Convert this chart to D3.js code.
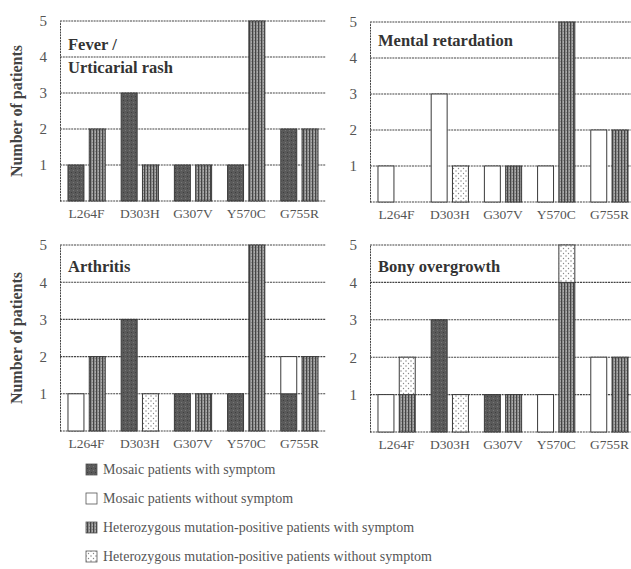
<!DOCTYPE html>
<html>
<head>
<meta charset="utf-8">
<script src="https://cdn.jsdelivr.net/npm/d3@7"></script>
<style>
  body { margin: 0; background: #fff; }
</style>
</head>
<body>
<div id="chart"></div>
<script>
const categories = ["L264F", "D303H", "G307V", "Y570C", "G755R"];
const panelTitles = [["Fever /", "Urticarial rash"], ["Mental retardation"], ["Arthritis"], ["Bony overgrowth"]];
const yTicks = [1, 2, 3, 4, 5];

// one row per panel, one value per category
const mosaicWith    = [[1, 3, 1, 1, 2], [0, 0, 0, 0, 0], [0, 3, 1, 1, 1], [0, 3, 1, 0, 0]];
const mosaicWithout = [[0, 0, 0, 0, 0], [1, 3, 1, 1, 2], [1, 0, 0, 0, 1], [1, 0, 0, 1, 2]];
const hetWith       = [[2, 1, 1, 5, 2], [0, 0, 1, 5, 2], [2, 0, 1, 5, 2], [1, 0, 1, 4, 2]];
const hetWithout    = [[0, 0, 0, 0, 0], [0, 1, 0, 0, 0], [0, 1, 0, 0, 0], [1, 1, 0, 1, 0]];

const legendLabels = [
  "Mosaic patients with symptom",
  "Mosaic patients without symptom",
  "Heterozygous mutation-positive patients with symptom",
  "Heterozygous mutation-positive patients without symptom"
];

const serif = "'Liberation Serif', 'Times New Roman', Times, 'DejaVu Serif', serif";
const width = 631, height = 569;
const svg = d3.select("#chart").append("svg")
  .attr("width", width).attr("height", height);

// patterns
const defs = svg.append("defs");
let p = defs.append("pattern").attr("id", "stripes")
  .attr("patternUnits", "userSpaceOnUse").attr("width", 3).attr("height", 3);
p.append("rect").attr("width", 3).attr("height", 3).attr("fill", "#aaa");
p.append("rect").attr("x", 0).attr("width", 1.3).attr("height", 3).attr("fill", "#444");
p.append("rect").attr("x", 1.8).attr("y", 1).attr("width", 0.8).attr("height", 1).attr("fill", "#6a6a6a");

p = defs.append("pattern").attr("id", "dots")
  .attr("patternUnits", "userSpaceOnUse").attr("width", 5).attr("height", 5);
p.append("rect").attr("width", 5).attr("height", 5).attr("fill", "#fff");
p.append("circle").attr("cx", 1).attr("cy", 1).attr("r", 0.7).attr("fill", "#777");
p.append("circle").attr("cx", 3.5).attr("cy", 3.5).attr("r", 0.7).attr("fill", "#888");

p = defs.append("pattern").attr("id", "dark")
  .attr("patternUnits", "userSpaceOnUse").attr("width", 4).attr("height", 4);
p.append("rect").attr("width", 4).attr("height", 4).attr("fill", "#5a5a5a");
p.append("rect").attr("x", 1).attr("y", 2).attr("width", 1).attr("height", 1).attr("fill", "#777");
p.append("rect").attr("x", 3).attr("y", 0).attr("width", 1).attr("height", 1).attr("fill", "#3f3f3f");

const fills = {
  mosaic: { with: "url(#dark)", without: "#fff" },
  het: { with: "url(#stripes)", without: "url(#dots)" }
};

const panels = [
  { x0: 60,  x1: 326, y0: 201, y1: 21 },
  { x0: 370, x1: 636, y0: 202, y1: 22 },
  { x0: 60,  x1: 326, y0: 431, y1: 245 },
  { x0: 370, x1: 636, y0: 432, y1: 245 }
];

panels.forEach((pn, i) => {
  const g = svg.append("g");

  const x = d3.scaleBand().domain(categories).range([pn.x0, pn.x1])
    .paddingInner(0.3).paddingOuter(0.15);
  const xs = d3.scaleBand().domain(["mosaic", "het"]).range([0, x.bandwidth()])
    .paddingInner(0.25);
  const y = d3.scaleLinear().domain([0, 5]).range([pn.y0, pn.y1]);

  // gridlines
  g.append("g").selectAll("line").data([0, ...yTicks]).join("line")
    .attr("x1", pn.x0).attr("x2", pn.x1)
    .attr("y1", d => y(d)).attr("y2", d => y(d))
    .attr("stroke", "#444").attr("stroke-width", 1.1)
    .attr("stroke-dasharray", "2,0.8");

  // y axis
  const ya = g.append("g").attr("transform", `translate(${pn.x0},0)`)
    .call(d3.axisLeft(y).tickValues(yTicks).tickSize(0).tickPadding(13).tickFormat(d3.format("d")));
  ya.select(".domain").attr("stroke", "#444").attr("stroke-dasharray", "2,0.8");
  ya.selectAll("text").attr("font-size", 15).attr("fill", "#555");

  // bars
  const rows = categories.map((c, j) => ({
    cat: c,
    groups: [
      { key: "mosaic", with: mosaicWith[i][j], without: mosaicWithout[i][j] },
      { key: "het", with: hetWith[i][j], without: hetWithout[i][j] }
    ]
  }));
  const stack = d3.stack().keys(["with", "without"]);
  rows.forEach(r => {
    const series = stack(r.groups);
    series.forEach(s => {
      s.forEach(seg => {
        if (seg[1] - seg[0] <= 0) return;
        const grp = seg.data.key;
        g.append("rect")
          .attr("x", x(r.cat) + xs(grp))
          .attr("y", y(seg[1]))
          .attr("width", xs.bandwidth())
          .attr("height", y(seg[0]) - y(seg[1]))
          .attr("fill", fills[grp][s.key])
          .attr("stroke", "#3a3a3a").attr("stroke-width", 1);
      });
    });
  });

  // x labels
  const xa = g.append("g").attr("transform", `translate(0,${pn.y0 + 3})`)
    .call(d3.axisBottom(x).tickSize(0).tickPadding(4));
  xa.select(".domain").remove();
  xa.selectAll("text").attr("font-size", 13.5).attr("fill", "#555");

  // panel title
  const tb = i < 2 ? (i === 0 ? 50 : 46) : 272;
  panelTitles[i].forEach((t, k) => {
    g.append("text").attr("x", pn.x0 + 8).attr("y", tb + k * 23)
      .attr("font-size", 16.5).attr("font-weight", "bold").attr("fill", "#333")
      .text(t);
  });

  // y title on left panels
  if (i % 2 === 0) {
    g.append("text")
      .attr("transform", `translate(22,${(pn.y0 + pn.y1) / 2}) rotate(-90)`)
      .attr("text-anchor", "middle")
      .attr("font-size", 16).attr("font-weight", "bold").attr("fill", "#444")
      .text("Number of patients");
  }
});

// legend
const legendFills = [fills.mosaic.with, fills.mosaic.without, fills.het.with, fills.het.without];
const lg = svg.append("g");
legendLabels.forEach((t, k) => {
  const cy = 469 + k * 29;
  lg.append("rect").attr("x", 86).attr("y", cy - 5).attr("width", 11).attr("height", 11)
    .attr("fill", legendFills[k]).attr("stroke", "#555").attr("stroke-width", 0.8);
  lg.append("text").attr("x", 103).attr("y", cy + 5)
    .attr("font-size", 14).attr("fill", "#555").text(t);
});

svg.selectAll("text").style("font-family", serif);
</script>
</body>
</html>
